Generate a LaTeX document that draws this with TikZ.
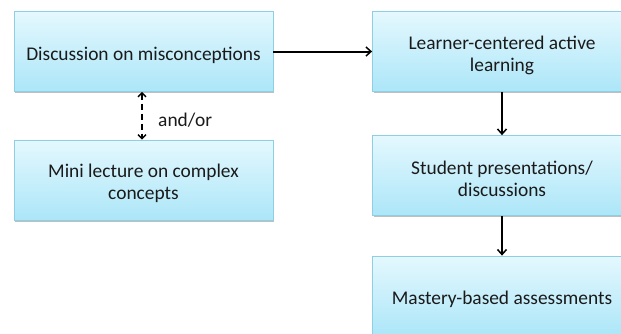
\documentclass[tikz,border=0pt]{standalone}
\usepackage{fontspec}
\setmainfont{Carlito}
\usetikzlibrary{arrows.meta,shadows}
\definecolor{boxtop}{HTML}{E4F8FE}
\definecolor{boxbot}{HTML}{ACE6F8}
\definecolor{boxline}{HTML}{8FCFE3}
\definecolor{txt}{HTML}{1A1A1A}
\tikzset{
  flowbox/.style={rectangle, draw=boxline, line width=0.8pt, top color=boxtop, bottom color=boxbot,
    minimum width=259pt, minimum height=80pt,
    drop shadow={shadow xshift=1pt, shadow yshift=-1.5pt, fill=black, opacity=0.25}},
  flowtext/.style={align=center, font=\fontsize{19.4}{22}\selectfont, text=txt, yshift=-3.5pt},
  conn/.style={line width=2pt, -{Straight Barb[length=5pt,width=9pt,line width=1.5pt]}},
  dconn/.style={line width=1.8pt, dash pattern=on 6pt off 4pt, {Straight Barb[length=4pt,width=8pt,line width=1.4pt]}-{Straight Barb[length=4pt,width=8pt,line width=1.4pt]}}
}
\begin{document}
\begin{tikzpicture}[x=1pt,y=-1pt]
\useasboundingbox (0,0) rectangle (621,333);
\clip (0,0) rectangle (621,333);
\node[flowbox, label={[flowtext]center:Discussion on misconceptions}] (disc) at (143.5,51.5) {};
\node[flowbox, label={[flowtext]center:Mini lecture on complex\\concepts}] (mini) at (143.5,180) {};
\node[flowbox, label={[flowtext]center:Learner-centered active\\learning}] (learn) at (502,51.5) {};
\node[flowbox, label={[flowtext]center:Student presentations/\\discussions}] (pres) at (502,175.5) {};
\node[flowbox, label={[flowtext]center:Mastery-based assessments}] (mast) at (502,296) {};
\draw[conn] (disc.east) -- (learn.west);
\draw[conn] (learn.south) -- (pres.north);
\draw[conn] (pres.south) -- (mast.north);
\draw[dconn] (disc.south -| 142,0) -- (mini.north -| 142,0) node[midway, right=12pt, yshift=-4pt, font=\fontsize{19.4}{22}\selectfont, text=txt] (lbl) {and/or};
\end{tikzpicture}
\end{document}
